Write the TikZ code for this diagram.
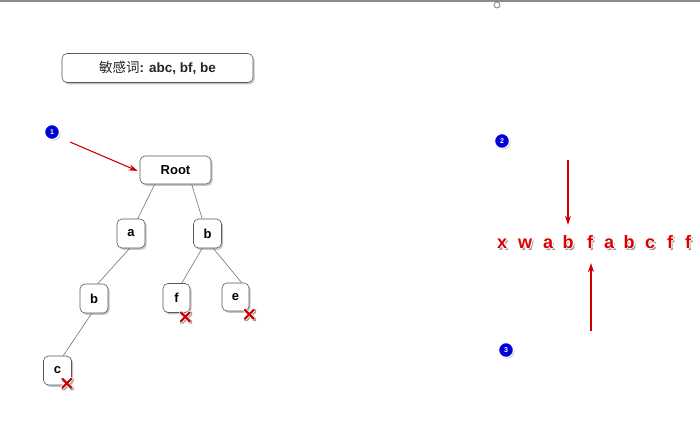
\documentclass[tikz,border=0pt]{standalone}
\usepackage{fontspec}
\setmainfont{Liberation Sans}
\newfontfamily\cjk{Noto Sans CJK SC}
\usetikzlibrary{arrows.meta,shadows}

\tikzset{
  box/.style={draw=black!65, line width=0.6pt, fill=white, rounded corners=5pt,
    drop shadow={shadow xshift=1.6pt, shadow yshift=-1.8pt, fill=black!50, opacity=0.45},
    font=\bfseries\fontsize{13}{15}\selectfont, inner sep=0pt},
  leaf/.style={box, minimum width=28pt, minimum height=29pt},
  edge/.style={draw=black!55, line width=0.6pt},
  pointer/.style={draw=red!80!black, line width=1.1pt, -{Stealth[length=9pt,width=6pt]}},
  badge/.style={circle, fill=blue!85!black, draw=white, line width=1.3pt,
    minimum size=15pt, inner sep=0pt, text=white, font=\bfseries\fontsize{7}{7}\selectfont,
    drop shadow={shadow xshift=0.9pt, shadow yshift=-0.9pt, fill=black!60, opacity=0.6}},
  letter/.style={inner sep=0pt, anchor=base, text height=13pt, text depth=0pt,
    font=\bfseries\fontsize{18}{18}\selectfont},
  pics/cross/.style={code={
    \draw[black!40, line width=3.8pt, line cap=round, shift={(1,1)}] (-4.5,-4.5) -- (4.5,4.5) (-4.5,4.5) -- (4.5,-4.5);
    \draw[white, line width=3.8pt, line cap=round] (-4.5,-4.5) -- (4.5,4.5) (-4.5,4.5) -- (4.5,-4.5);
    \draw[red!80!black, line width=2.2pt, line cap=round] (-4.5,-4.5) -- (4.5,4.5) (-4.5,4.5) -- (4.5,-4.5);
  }}
}

\begin{document}
\begin{tikzpicture}[x=1pt, y=-1pt]
\useasboundingbox[fill=white] (0,0) rectangle (700,424);

% window edge at the top
\draw[black!45, line width=1.4pt] (0,1) -- (700,1);
\draw[black!55, fill=white, line width=0.7pt] (497,5) circle (3);

% keyword list
\node[box, minimum width=191pt, minimum height=29pt, font=\fontsize{13.5}{15}\selectfont, text=black!85]
  (title) at (157.5,68) {{\cjk 敏感词}\textbf{: abc, bf, be}};

% trie
\node[box, minimum width=71pt, minimum height=28pt] (root) at (175.5,170) {Root};
\node[leaf] (a)  at (131,233.5) {a};
\node[leaf] (b1) at (207.5,233.5) {b};
\node[leaf] (b2) at (94,298.5) {b};
\node[leaf, minimum width=27pt] (f) at (176.5,298) {f};
\node[leaf, minimum width=27pt, minimum height=28pt] (e) at (235.5,297) {e};
\node[leaf] (c)  at (57.5,370.5) {c};

\draw[edge] ([xshift=15pt]root.south west) -- ([xshift=21pt]a.north west);
\draw[edge] ([xshift=52pt]root.south west) -- ([xshift=9pt]b1.north west);
\draw[edge] ([xshift=13pt]a.south west) -- ([xshift=18pt]b2.north west);
\draw[edge] ([xshift=12pt]b2.south west) -- ([xshift=20pt]c.north west);
\draw[edge] ([xshift=9pt]b1.south west) -- ([xshift=19pt]f.north west);
\draw[edge] ([xshift=20pt]b1.south west) -- ([xshift=20pt]e.north west);

% end-of-word marks
\pic at ([xshift=-5pt,yshift=-4pt]f.south east) {cross};
\pic at ([xshift=0pt,yshift=-3pt]e.south east) {cross};
\pic at ([xshift=-5pt,yshift=2pt]c.south east) {cross};

% step badges
\node[badge] (s1) at (52,132) {1};
\node[badge] (s2) at (502,141) {2};
\node[badge] (s3) at (506,350) {3};

% pointer to the root
\coordinate (p1) at (70,142);
\draw[pointer] (p1) -- ([xshift=-2pt,yshift=-1pt]root.west);

% text being scanned: shadow, white rim, red letter
\foreach \ch/\x [count=\i] in {x/502,w/525,a/548,b/568,f/590,a/609,b/629,c/650,f/670,f/688} {
  \node[letter, text=black!40] at (\x+1.8,248+2) {\ch};
  \foreach \dx/\dy in {1.3/0,-1.3/0,0/1.3,0/-1.3,0.9/0.9,-0.9/0.9,0.9/-0.9,-0.9/-0.9}
    \node[letter, text=white] at (\x+\dx,248+\dy) {\ch};
  \node[letter, text=red!85!black] (l\i) at (\x,248) {\ch};
}

% scan pointers
\coordinate (p2) at (568,160);
\coordinate (p3) at (591,331);
\draw[pointer] (p2) -- ([yshift=10pt]l4.north);
\draw[pointer] (p3) -- ([xshift=1pt,yshift=-15pt]l5.south);
\end{tikzpicture}
\end{document}
